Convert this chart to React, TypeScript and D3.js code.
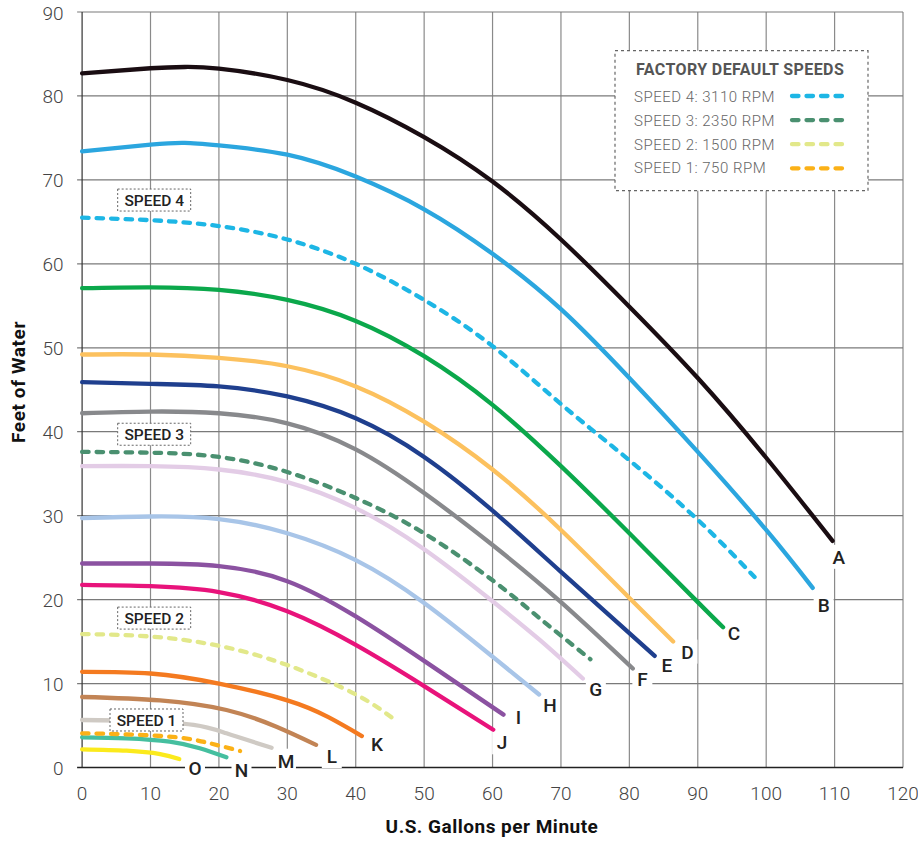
import React from "react";
import * as d3 from "d3";

const xTicks = [0, 10, 20, 30, 40, 50, 60, 70, 80, 90, 100, 110, 120];
const yTicks = [0, 10, 20, 30, 40, 50, 60, 70, 80, 90];

const curveA: [number, number][] = [[0, 82.7], [10, 83.3], [15, 83.45], [20, 83.25], [30, 81.9], [40, 79.2], [50, 75.1], [60, 69.8], [70, 62.9], [80, 54.9], [90, 46.4], [100, 36.9], [109.7, 27.0]];
const curveB: [number, number][] = [[0, 73.4], [10, 74.2], [15, 74.4], [20, 74.1], [30, 73.0], [40, 70.4], [50, 66.5], [60, 61.2], [70, 54.6], [80, 46.4], [90, 37.6], [100, 28.3], [106.8, 21.4]];
const speed4: [number, number][] = [[0, 65.5], [10, 65.2], [20, 64.5], [30, 62.9], [40, 60.0], [50, 55.7], [60, 50.2], [70, 43.3], [80, 36.6], [90, 29.5], [98.3, 22.7]];
const curveC: [number, number][] = [[0, 57.1], [10, 57.2], [20, 56.9], [30, 55.7], [40, 53.2], [50, 49.0], [60, 43.2], [70, 35.9], [80, 27.9], [90, 19.7], [93.7, 16.7]];
const curveD: [number, number][] = [[0, 49.2], [10, 49.2], [20, 48.8], [30, 47.8], [40, 45.4], [50, 41.2], [60, 35.5], [70, 28.3], [80, 20.2], [86.4, 15.0]];
const curveE: [number, number][] = [[0, 45.9], [10, 45.7], [20, 45.4], [30, 44.2], [40, 41.6], [50, 37.0], [60, 30.6], [70, 23.3], [83.7, 13.3]];
const curveF: [number, number][] = [[0, 42.2], [10, 42.4], [20, 42.2], [30, 41.0], [40, 37.9], [50, 32.7], [60, 26.5], [70, 19.7], [80.5, 11.8]];
const speed3: [number, number][] = [[0, 37.6], [10, 37.5], [20, 37.0], [30, 35.2], [40, 32.1], [50, 27.9], [60, 22.3], [67, 17.7], [74.3, 12.9]];
const curveG: [number, number][] = [[0, 35.9], [10, 35.9], [20, 35.5], [30, 34.0], [40, 30.9], [50, 26.0], [60, 19.8], [66.9, 15.2], [73.2, 10.6]];
const curveH: [number, number][] = [[0, 29.7], [10, 29.9], [20, 29.6], [30, 27.9], [40, 24.7], [50, 19.6], [60, 13.2], [66.8, 8.7]];
const curveI: [number, number][] = [[0, 24.3], [10, 24.3], [20, 24.0], [30, 22.2], [40, 18.0], [50, 12.7], [61.6, 6.3]];
const curveJ: [number, number][] = [[0, 21.75], [10, 21.6], [20, 20.9], [30, 18.6], [40, 14.6], [50, 9.7], [60.1, 4.5]];
const speed2: [number, number][] = [[0, 15.9], [10, 15.6], [20, 14.5], [30, 12.2], [40, 8.7], [46, 5.5]];
const curveK: [number, number][] = [[0, 11.4], [10, 11.2], [20, 10.0], [30, 8.0], [36, 6.0], [40.9, 3.75]];
const curveL: [number, number][] = [[0, 8.4], [11.4, 8.0], [21.1, 6.85], [28.4, 4.86], [34.2, 2.7]];
const curveM: [number, number][] = [[0, 5.66], [8, 5.55], [16.3, 5.07], [21.1, 4.07], [27.7, 2.36]];
const speed1: [number, number][] = [[0, 4.07], [6.5, 3.95], [13.8, 3.6], [18.7, 2.88], [23.1, 1.97]];
const curveN: [number, number][] = [[0, 3.6], [6.5, 3.48], [12.8, 3.08], [17.2, 2.29], [21.1, 1.21]];
const curveO: [number, number][] = [[0, 2.17], [6.5, 2.0], [11.4, 1.6], [14.2, 1.01]];

const curveLetters = ["A", "B", "C", "D", "E", "F", "G", "H", "I", "J", "K", "L", "M", "N", "O"];
const letterX = [110.6, 108.4, 95.3, 88.5, 85.5, 81.9, 75.1, 68.4, 63.8, 61.4, 43.1, 36.5, 29.8, 23.3, 16.5];
const letterY = [25.1, 19.4, 16.0, 13.8, 12.2, 10.5, 9.4, 7.45, 6.0, 3.0, 2.8, 1.37, 0.81, -0.3, -0.1];

const speedLabels = ["SPEED 4", "SPEED 3", "SPEED 2", "SPEED 1"];
const speedLabelX = [5.2, 5.2, 5.2, 4.08];
const speedLabelY = [67.6, 39.7, 17.8, 5.66];

const legendTitle = "FACTORY DEFAULT SPEEDS";
const legendLabels = ["SPEED 4: 3110 RPM", "SPEED 3: 2350 RPM", "SPEED 2: 1500 RPM", "SPEED 1: 750 RPM"];
const legendColors = ["#1db6e5", "#4a9070", "#e2e88a", "#fbb117"];

const solidCurves = [
  { data: curveA, color: "#1a0d12" },
  { data: curveB, color: "#2ba6df" },
  { data: curveC, color: "#0ba84b" },
  { data: curveD, color: "#fcc15e" },
  { data: curveE, color: "#1f3f8e" },
  { data: curveF, color: "#88898c" },
  { data: curveG, color: "#e3cce6" },
  { data: curveH, color: "#a8c5e8" },
  { data: curveI, color: "#8b52a1" },
  { data: curveJ, color: "#e8137b" },
  { data: curveK, color: "#f47a20" },
  { data: curveL, color: "#c28455" },
  { data: curveM, color: "#cfcac4" },
  { data: curveN, color: "#45bf9f" },
  { data: curveO, color: "#fbea1c" },
];
const dashedCurves = [
  { data: speed4, color: legendColors[0] },
  { data: speed3, color: legendColors[1] },
  { data: speed2, color: legendColors[2] },
  { data: speed1, color: legendColors[3] },
];

const W = 918;
const H = 842;
const left = 82.1;
const right = 903;
const top = 12;
const bottom = 767.5;
const font = "Roboto, 'DejaVu Sans', sans-serif";

export default function App() {
  const x = d3.scaleLinear().domain([0, 120]).range([left, right]);
  const y = d3.scaleLinear().domain([0, 90]).range([bottom, top]);
  const line = d3
    .line<[number, number]>()
    .x((d) => x(d[0]))
    .y((d) => y(d[1]))
    .curve(d3.curveNatural);

  return (
    <div style={{ position: "absolute", left: 0, top: 0 }}>
      <svg width={W} height={H} style={{ display: "block", background: "#fff" }}>
        {/* grid */}
        {xTicks.slice(1).map((t) => (
          <line key={"gx" + t} x1={x(t)} x2={x(t)} y1={top} y2={bottom} stroke="#8a8a8a" strokeWidth={1.2} />
        ))}
        {yTicks.slice(1).map((t) => (
          <line key={"gy" + t} x1={left - 5} x2={right} y1={y(t)} y2={y(t)} stroke="#7a7a7a" strokeWidth={1.2} />
        ))}
        <line x1={left} x2={left} y1={top} y2={bottom} stroke="#333" strokeWidth={1.2} />
        <line x1={left - 5} x2={right} y1={bottom} y2={bottom} stroke="#222" strokeWidth={1.4} />

        {/* tick labels */}
        {xTicks.map((t) => (
          <text key={"tx" + t} x={x(t)} y={bottom + 32.5} textAnchor="middle" fontFamily={font} fontSize={19} fill="#444" fontWeight={300}>
            {t}
          </text>
        ))}
        {yTicks.map((t) => (
          <text key={"ty" + t} x={left - 18.5} y={y(t) + 7.5} textAnchor="end" fontFamily={font} fontSize={19} fill="#444" fontWeight={300}>
            {t}
          </text>
        ))}

        {/* axis titles */}
        <text x={492} y={833} textAnchor="middle" fontFamily={font} fontSize={19} fontWeight={700} fill="#111" letterSpacing={0.5}>
          U.S. Gallons per Minute
        </text>
        <text transform={`translate(25,${382}) rotate(-90)`} textAnchor="middle" fontFamily={font} fontSize={19} fontWeight={700} fill="#111" letterSpacing={0.6}>
          Feet of Water
        </text>

        {/* letter label backgrounds */}
        {curveLetters.map((l, i) => (
          <rect key={"lr" + l} x={x(letterX[i]) - 10} y={y(letterY[i]) - 12} width={20} height={24} fill="#fff" />
        ))}

        {/* curves */}
        {solidCurves.map((c, i) => (
          <path key={"sc" + i} d={line(c.data) || ""} fill="none" stroke={c.color} strokeWidth={4.3} strokeLinecap="round" />
        ))}
        {dashedCurves.map((c, i) => (
          <path key={"dc" + i} d={line(c.data) || ""} fill="none" stroke={c.color} strokeWidth={4.3} strokeLinecap="round" strokeDasharray="6.5 8" />
        ))}

        {/* letter labels */}
        {curveLetters.map((l, i) => (
          <text key={"lb" + l} x={x(letterX[i])} y={y(letterY[i]) + 7} textAnchor="middle" fontFamily={font} fontSize={19} fill="#222" fontWeight={500}>
            {l}
          </text>
        ))}

        {/* speed labels */}
        {speedLabels.map((s, i) => (
          <g key={"sp" + s}>
            <rect x={x(speedLabelX[i])} y={y(speedLabelY[i]) - 11} width={73} height={22} fill="#fff" stroke="#666" strokeWidth={1} strokeDasharray="2 2" />
            <text x={x(speedLabelX[i]) + 36.5} y={y(speedLabelY[i]) + 6} textAnchor="middle" fontFamily={font} fontSize={15.5} fill="#222" fontWeight={500}>
              {s}
            </text>
          </g>
        ))}

        {/* legend */}
        <rect x={615} y={50.7} width={253} height={140} fill="#fff" stroke="#666" strokeWidth={1.2} strokeDasharray="3 3" />
        <text x={636} y={75} fontFamily={font} fontSize={16} fontWeight={700} fill="#555" letterSpacing={0.4}>
          {legendTitle}
        </text>
        {legendLabels.map((l, i) => (
          <g key={"lg" + i}>
            <text x={634} y={102.3 + i * 23.7} fontFamily={font} fontSize={15} fill="#666" fontWeight={300} letterSpacing={0.5}>
              {l}
            </text>
            <line x1={792} x2={842} y1={96 + i * 24.1} y2={96 + i * 24.1} stroke={legendColors[i]} strokeWidth={4.3} strokeLinecap="round" strokeDasharray="6.5 8" />
          </g>
        ))}
      </svg>
    </div>
  );
}
